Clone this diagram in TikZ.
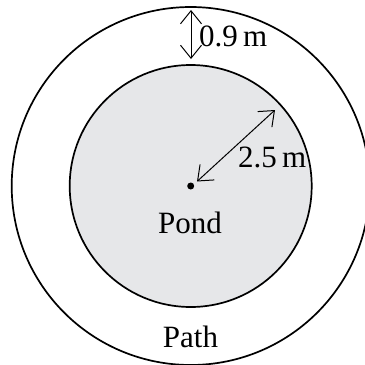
\documentclass[tikz,border=0pt]{standalone}
\usepackage{fontspec}
\setmainfont{Liberation Serif}
\usetikzlibrary{arrows.meta}
\definecolor{pondgray}{RGB}{230,231,233}
\tikzset{
  ring/.style={draw=black, line width=1.7pt, circle, inner sep=0pt},
  dimarrow/.style={line width=1pt, {Straight Barb[length=13pt,width=21pt,line width=1pt]}-{Straight Barb[length=13pt,width=21pt,line width=1pt]}},
  lbl/.style={inner sep=0pt, font=\fontsize{31}{36}\selectfont}
}
\begin{document}
\begin{tikzpicture}[x=1pt,y=-1pt]
\useasboundingbox (0,0) rectangle (365,365);
\clip (0,0) rectangle (365,365);
\coordinate (c) at (190.7,186);
\node[ring, minimum size=358pt] (outer) at (c) {};
\node[ring, fill=pondgray, minimum size=242pt] (inner) at (c) {};
\fill (c) circle (3.5pt);
\coordinate (r1) at (197,181.5);
\coordinate (r2) at (275,110);
\draw[dimarrow] (r1) -- (r2);
\coordinate (w1) at (191,10);
\coordinate (w2) at (191,59);
\draw[dimarrow] (w1) -- (w2);
\node[lbl, anchor=base west] (lw) at (199,46) {0.9\,m};
\node[lbl, anchor=base west] (lr) at (238,167) {2.5\,m};
\node[lbl, anchor=base] (pond) at (190,233) {Pond};
\node[lbl, anchor=base] (path) at (190.5,347) {Path};
\end{tikzpicture}
\end{document}
